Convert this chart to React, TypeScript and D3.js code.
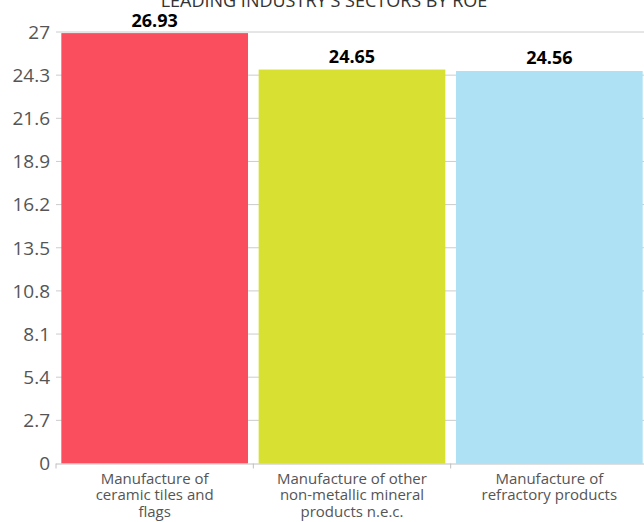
import React, { useEffect, useRef } from 'react';
import * as d3 from 'd3';

const title = "LEADING INDUSTRY'S SECTORS BY ROE";
const categories = [
    ['Manufacture of', 'ceramic tiles and', 'flags'],
    ['Manufacture of other', 'non-metallic mineral', 'products n.e.c.'],
    ['Manufacture of', 'refractory products'],
];
const values = [26.93, 24.65, 24.56];
const colors = ['#fa4d5d', '#d8e032', '#ade1f3'];
const yTicks = [0, 2.7, 5.4, 8.1, 10.8, 13.5, 16.2, 18.9, 21.6, 24.3, 27];

const width = 644;
const height = 522;
const font = "'Open Sans', 'Noto Sans', sans-serif";

const App: React.FC = () => {
    const ref = useRef<SVGSVGElement | null>(null);

    useEffect(() => {
        if (!ref.current) return;
        const svg = d3.select(ref.current);
        svg.selectAll('*').remove();

        const margin = { top: 32, left: 56, right: -4, bottom: 58.5 };
        const plotRight = width - margin.right;
        const plotBottom = height - margin.bottom;

        const x = d3.scaleBand<number>()
            .domain(values.map((_, i) => i))
            .range([margin.left, plotRight])
            .paddingInner(0.054)
            .paddingOuter(0.027);

        const y = d3.scaleLinear()
            .domain([0, 27])
            .range([plotBottom, margin.top]);

        // gridlines
        svg.append('g')
            .selectAll('line')
            .data(yTicks.filter(t => t > 0))
            .enter().append('line')
            .attr('x1', margin.left)
            .attr('x2', plotRight)
            .attr('y1', d => y(d))
            .attr('y2', d => y(d))
            .attr('stroke', '#cccccc')
            .attr('stroke-width', 1);

        // y tick labels
        svg.append('g')
            .selectAll('text')
            .data(yTicks)
            .enter().append('text')
            .attr('x', 50)
            .attr('y', d => y(d))
            .attr('dy', '0.36em')
            .attr('text-anchor', 'end')
            .style('font-family', font)
            .style('font-size', '19px')
            .style('fill', '#555555')
            .text(d => String(d));

        // bars
        svg.append('g')
            .selectAll('rect')
            .data(values)
            .enter().append('rect')
            .attr('x', (_, i) => x(i)!)
            .attr('y', d => y(d))
            .attr('width', x.bandwidth())
            .attr('height', d => y(0) - y(d))
            .attr('fill', (_, i) => colors[i]);

        // value labels
        svg.append('g')
            .selectAll('text')
            .data(values)
            .enter().append('text')
            .attr('x', (_, i) => x(i)! + x.bandwidth() / 2)
            .attr('y', d => y(d) - 6.5)
            .attr('text-anchor', 'middle')
            .style('font-family', font)
            .style('font-size', '18px')
            .style('font-weight', 'bold')
            .style('fill', '#000000')
            .text(d => d.toFixed(2));

        // x axis
        const step = x.step();
        const bounds = d3.range(values.length + 1).map(i => margin.left + i * step);
        const xAxis = svg.append('g');
        xAxis.append('line')
            .attr('x1', margin.left)
            .attr('x2', plotRight)
            .attr('y1', y(0) + 0.5)
            .attr('y2', y(0) + 0.5)
            .attr('stroke', '#c0c0c0');
        xAxis.selectAll('.tick')
            .data(bounds)
            .enter().append('line')
            .attr('x1', d => d)
            .attr('x2', d => d)
            .attr('y1', y(0))
            .attr('y2', y(0) + 5)
            .attr('stroke', '#c0c0c0');

        // multi-line category labels
        xAxis.selectAll('.x-label')
            .data(categories.flatMap((lines, i) => lines.map((line, j) => ({ line, i, j }))))
            .enter().append('text')
            .attr('class', 'x-label')
            .attr('x', d => x(d.i)! + x.bandwidth() / 2)
            .attr('y', d => y(0) + 20 + d.j * 16.7)
            .attr('text-anchor', 'middle')
            .style('font-family', font)
            .style('font-size', '15px')
            .style('fill', '#555555')
            .text(d => d.line);

        // title (cut off at the top, as in the source)
        svg.append('text')
            .attr('x', 324)
            .attr('y', 7)
            .attr('text-anchor', 'middle')
            .style('font-family', font)
            .style('font-size', '18px')
            .style('fill', '#333333')
            .text(title);
    }, []);

    return (
        <svg
            ref={ref}
            width={width}
            height={height}
            style={{ position: 'absolute', left: 0, top: 0, background: '#ffffff' }}
        />
    );
};

export default App;
